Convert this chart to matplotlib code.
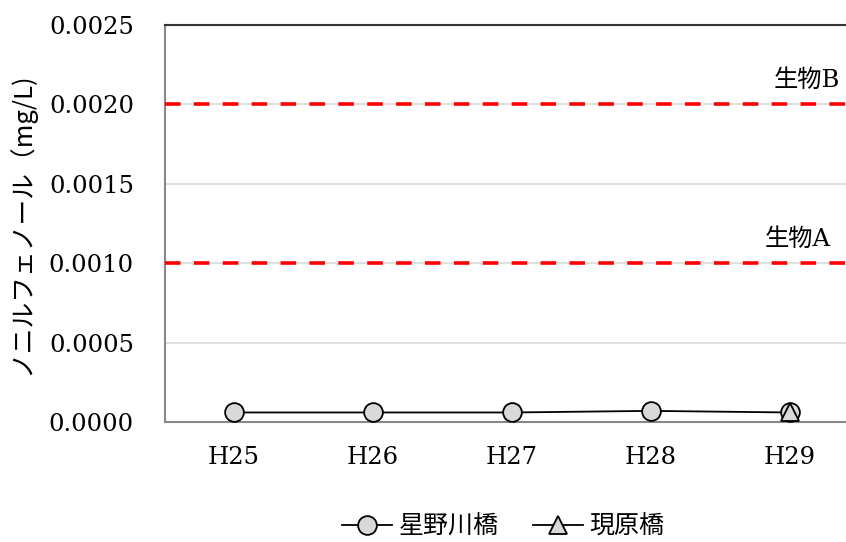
import numpy as np
import matplotlib.pyplot as plt

# data
years = ["H25", "H26", "H27", "H28", "H29"]
hoshinogawa = [0.00006, 0.00006, 0.00006, 0.00007, 0.00006]
genbara = [None, None, None, None, 0.00006]
std_a = 0.0010
std_b = 0.0020
yticks = [0.0, 0.0005, 0.0010, 0.0015, 0.0020, 0.0025]

serif = ["DejaVu Serif", "Noto Sans CJK JP"]
jp = ["Noto Sans CJK JP", "DejaVu Sans"]

fig = plt.figure(figsize=(8.46, 5.42), dpi=100)
ax = fig.add_axes([164.5/846, 1-422/542, 695/846, 397/542])

x = np.arange(len(years))
ax.plot(x, hoshinogawa, color="black", lw=1.3, marker="o", ms=13.5,
        mfc="#d9d9d9", mec="black", mew=1.3, label="星野川橋", zorder=4)
g = np.array([np.nan if v is None else v for v in genbara], dtype=float)
ax.plot(x, g, color="black", lw=1.3, marker="^", ms=13.5,
        mfc="#d9d9d9", mec="black", mew=1.3, label="現原橋", zorder=5)

ax.axhline(std_a, color="#ff0000", lw=2.6, dashes=(4.3, 3.7), zorder=3)
ax.axhline(std_b, color="#ff0000", lw=2.6, dashes=(4.3, 3.7), zorder=3)
ax.text(4.36, std_b + 0.00008, "生物B", ha="right", va="bottom",
        fontsize=17.5, family=serif)
ax.text(4.29, std_a + 0.00008, "生物A", ha="right", va="bottom",
        fontsize=17.5, family=serif)

ax.set_xlim(-0.5, 4.5)
ax.set_ylim(0, 0.0025)
ax.set_xticks(x)
ax.set_xticklabels(years, family=serif, fontsize=17.5)
ax.set_yticks(yticks)
ax.set_yticklabels([f"{v:.4f}" for v in yticks], family=serif, fontsize=17.5)
ax.tick_params(axis="y", length=0, pad=22)
ax.tick_params(axis="x", length=0, pad=17)
ax.grid(axis="y", color="#d9d9d9", lw=1.2)
ax.set_axisbelow(True)

for s in ["left", "bottom"]:
    ax.spines[s].set_color("#888888")
    ax.spines[s].set_linewidth(1.5)
ax.spines["top"].set_color("#333333")
ax.spines["top"].set_linewidth(1.5)
ax.spines["right"].set_visible(False)

ax.set_ylabel("ノニルフェノール（mg/L)", family=jp, fontsize=18.5)
ax.yaxis.set_label_coords(-129/695, 0.5)

fig.legend(loc="center", bbox_to_anchor=(0.595, 0.028), ncol=2, frameon=False,
           prop={"family": jp, "size": 18}, handlelength=2.0, columnspacing=1.4,
           handletextpad=0.25)

fig.savefig("out.png", dpi=100)
